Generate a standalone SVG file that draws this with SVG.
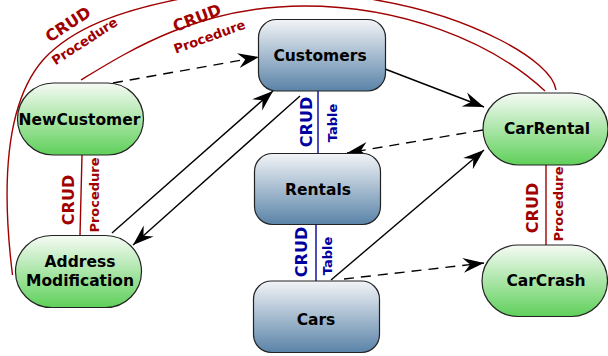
<svg xmlns="http://www.w3.org/2000/svg" width="608" height="356" viewBox="0 0 608 356">
<defs>
<linearGradient id="g" x1="0" y1="0" x2="0" y2="1"><stop offset="0" stop-color="#f6fbf5"/><stop offset="1" stop-color="#5fd05a"/></linearGradient>
<linearGradient id="b" x1="0" y1="0" x2="0" y2="1"><stop offset="0" stop-color="#f2f4f7"/><stop offset="1" stop-color="#5a83a8"/></linearGradient>
<marker id="a" markerUnits="userSpaceOnUse" markerWidth="24" markerHeight="20" refX="21" refY="9" orient="auto" viewBox="0 0 24 18"><path d="M21 9L0 1.500L7 9L0 16.500Z" fill="#000"/></marker>
</defs>
<style>
.n{font:bold 15.500px "DejaVu Sans",sans-serif;text-anchor:middle;fill:#000}
.g{fill:url(#g);stroke:#222;stroke-width:1.200}
.t{fill:url(#b);stroke:#222;stroke-width:1.200}
.c{fill:none;stroke:#000;stroke-width:1.400;marker-end:url(#a)}
.d{stroke-dasharray:10 7}
.r{fill:none;stroke:#a00000;stroke-width:1.400}
.u{fill:none;stroke:#0000a0;stroke-width:1.400}
.rl{font-family:"DejaVu Sans",sans-serif;font-weight:bold;fill:#a00000;text-anchor:middle}
.bl{font-family:"DejaVu Sans",sans-serif;font-weight:bold;fill:#0000a0;text-anchor:middle}
.k{font-size:16px}.s{font-size:13px}
</style>
<g id="connectors">
<path class="r" d="M12.500 275C2 190 4 105 43 60C72 28 120 10 190 -3C250 -12 320 -10 376 0C470 16 552 60 556 90"/>
<path class="r" d="M81 80C130 50 200 6 304 6C400 6 490 40 545 91"/>
<path class="r" d="M82 155L80 235"/>
<path class="r" d="M546 165V245"/>
<path class="u" d="M318 91V153"/>
<path class="u" d="M316 224V281"/>
<path class="c d" d="M113 83L259 57"/>
<path class="c" d="M112 233L273 91"/>
<path class="c" d="M300 96L133 245"/>
<path class="c" d="M385 69L484 107"/>
<path class="c d" d="M483 130L347 153"/>
<path class="c" d="M331 280L484 150"/>
<path class="c d" d="M344 279L484 263"/>
<text class="rl k" transform="translate(71 29) rotate(-33)">CRUD</text>
<text class="rl s" transform="translate(87 45) rotate(-33)">Procedure</text>
<text class="rl k" transform="translate(199 23) rotate(-21)">CRUD</text>
<text class="rl s" transform="translate(211 41) rotate(-20)">Procedure</text>
<text class="rl k" transform="translate(74 200) rotate(-90)">CRUD</text>
<text class="rl s" transform="translate(99 195) rotate(-90)">Procedure</text>
<text class="rl k" transform="translate(538 208) rotate(-90)">CRUD</text>
<text class="rl s" transform="translate(563 204) rotate(-90)">Procedure</text>
<text class="bl k" transform="translate(312 122) rotate(-90)">CRUD</text>
<text class="bl s" transform="translate(337 123) rotate(-90)">Table</text>
<text class="bl k" transform="translate(307 252) rotate(-90)">CRUD</text>
<text class="bl s" transform="translate(332 256) rotate(-90)">Table</text>
</g>
<g id="NewCustomer"><rect class="g" x="17.500" y="83" width="126" height="72" rx="36" ry="36"/><text class="n" x="79.500" y="125">NewCustomer</text></g>
<g id="AddressModification"><rect class="g" x="15.500" y="235.500" width="126" height="72" rx="36" ry="36"/><text class="n" x="80" y="266.500">Address</text><text class="n" x="80" y="285.500">Modification</text></g>
<g id="Customers"><rect class="t" x="258.500" y="19.500" width="127" height="71.500" rx="18" ry="18"/><text class="n" x="320" y="60.500">Customers</text></g>
<g id="Rentals"><rect class="t" x="254.500" y="153.500" width="126" height="71" rx="18" ry="18"/><text class="n" x="318" y="194.500">Rentals</text></g>
<g id="Cars"><rect class="t" x="253.500" y="281" width="126" height="71.500" rx="18" ry="18"/><text class="n" x="316" y="324.500">Cars</text></g>
<g id="CarRental"><rect class="g" x="483" y="93" width="125" height="72" rx="36" ry="36"/><text class="n" x="547" y="134">CarRental</text></g>
<g id="CarCrash"><rect class="g" x="482" y="245" width="125.500" height="71.500" rx="36" ry="36"/><text class="n" x="546" y="286">CarCrash</text></g>
</svg>
